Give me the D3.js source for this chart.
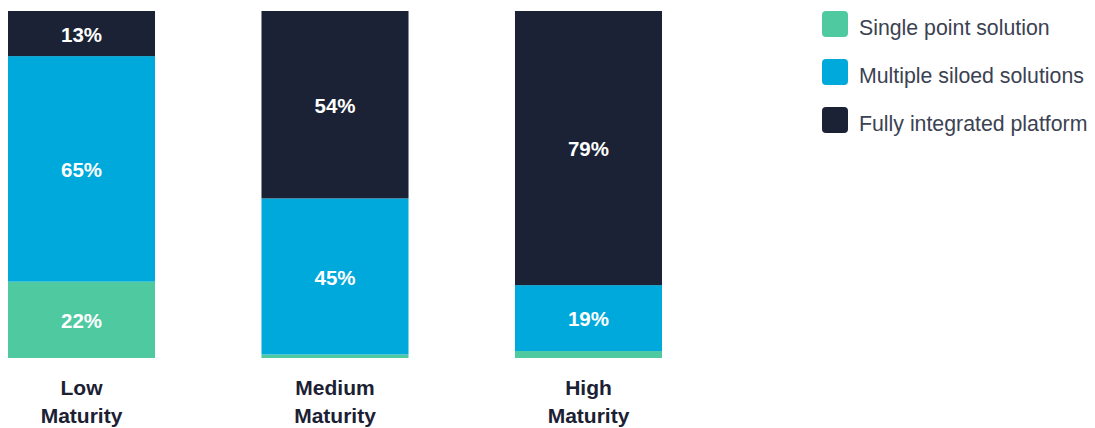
<!DOCTYPE html>
<html>
<head>
<meta charset="utf-8">
<script src="https://cdn.jsdelivr.net/npm/d3@7"></script>
<style>
  body { margin: 0; background: #fff; }
  text { font-family: "Liberation Sans", Arial, sans-serif; }
</style>
</head>
<body>
<script>
var categories = [["Low", "Maturity"], ["Medium", "Maturity"], ["High", "Maturity"]];
var seriesNames = ["Single point solution", "Multiple siloed solutions", "Fully integrated platform"];
var seriesColors = ["#4fc9a0", "#00a9db", "#1b2235"];
var singlePoint = [22, 1, 2];
var multipleSiloed = [65, 45, 19];
var fullyIntegrated = [13, 54, 79];

var svg = d3.select("body").append("svg")
	.attr("width", 1095)
	.attr("height", 428);

var rows = categories.map(function (c, i) {
	return { key: i, s0: singlePoint[i], s1: multipleSiloed[i], s2: fullyIntegrated[i] };
});

var stack = d3.stack().keys(["s0", "s1", "s2"]);
var layers = stack(rows);

var x = d3.scaleBand()
	.domain(d3.range(categories.length))
	.range([8, 662])
	.paddingInner(0.42)
	.paddingOuter(0);

var y = d3.scaleLinear().domain([0, 100]).range([358, 11]);

var groups = svg.selectAll("g.layer")
	.data(layers)
	.enter()
	.append("g")
	.attr("class", "layer")
	.attr("fill", function (d, i) { return seriesColors[i]; });

groups.selectAll("rect")
	.data(function (d) { return d; })
	.enter()
	.append("rect")
	.attr("x", function (d) { return x(d.data.key); })
	.attr("width", x.bandwidth())
	.attr("y", function (d) { return y(d[1]); })
	.attr("height", function (d) { return y(d[0]) - y(d[1]); });

// value labels, small slices get none
groups.selectAll("text")
	.data(function (d) { return d.filter(function (p) { return p[1] - p[0] >= 5; }); })
	.enter()
	.append("text")
	.attr("x", function (d) { return x(d.data.key) + x.bandwidth() / 2; })
	.attr("y", function (d) { return (y(d[0]) + y(d[1])) / 2; })
	.attr("dy", "0.4em")
	.attr("text-anchor", "middle")
	.attr("fill", "#fff")
	.attr("font-size", 20.5)
	.attr("font-weight", "bold")
	.text(function (d) { return Math.round(d[1] - d[0]) + "%"; });

// category labels
var cat = svg.selectAll("text.cat")
	.data(categories)
	.enter()
	.append("text")
	.attr("class", "cat")
	.attr("transform", function (d, i) {
		return "translate(" + (x(i) + x.bandwidth() / 2) + ",395)";
	})
	.attr("text-anchor", "middle")
	.attr("fill", "#1b2133")
	.attr("font-size", 21)
	.attr("font-weight", "bold");

cat.selectAll("tspan")
	.data(function (d) { return d; })
	.enter()
	.append("tspan")
	.attr("x", 0)
	.attr("dy", function (d, j) { return j === 0 ? 0 : 27.5; })
	.text(function (d) { return d; });

// legend
var legend = svg.selectAll("g.legend")
	.data(seriesNames)
	.enter()
	.append("g")
	.attr("class", "legend")
	.attr("transform", function (d, i) { return "translate(822," + (11 + i * 48) + ")"; });

legend.append("rect")
	.attr("width", 26)
	.attr("height", 26)
	.attr("rx", 4)
	.attr("fill", function (d, i) { return seriesColors[i]; });

legend.append("text")
	.attr("x", 37)
	.attr("y", 24)
	.attr("fill", "#3b4252")
	.attr("font-size", 21.3)
	.text(function (d) { return d; });
</script>
</body>
</html>
